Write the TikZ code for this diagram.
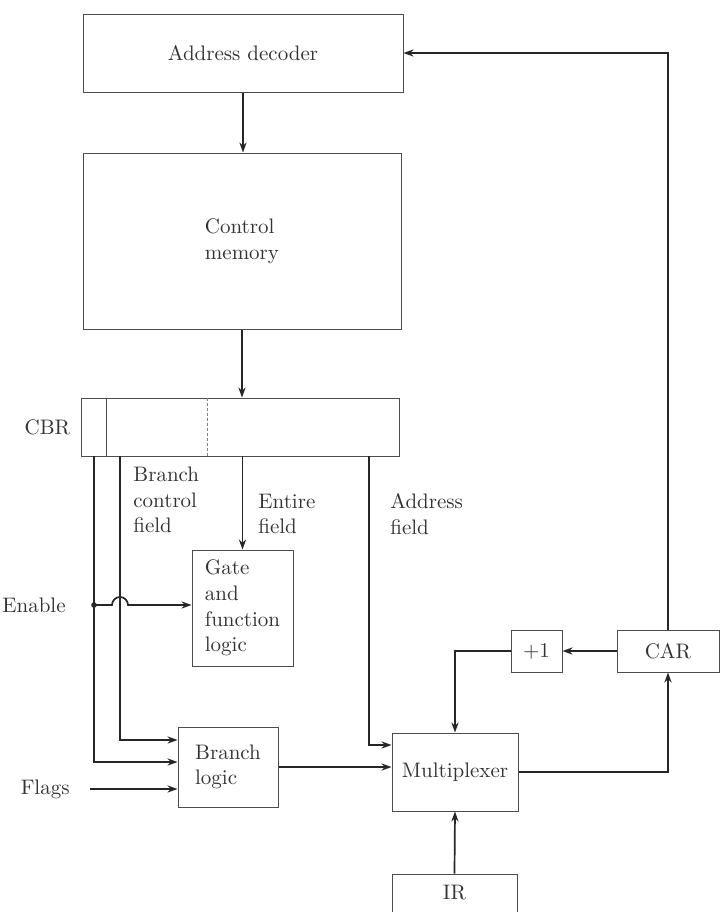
\documentclass[tikz,border=0pt]{standalone}
\usepackage{tikz}
\usetikzlibrary{arrows.meta,positioning}

\begin{document}
\begin{tikzpicture}[x=0.5pt,y=-0.5pt,>={Stealth[length=5pt,width=3.6pt]},
 font=\fontsize{10.5}{12.8}\selectfont,
 blk/.style={draw=black!70,line width=0.5pt,text=black!80,align=center,inner sep=2pt},
 wire/.style={line width=0.85pt,draw=black!85},
 lab/.style={text=black!80,align=left,inner sep=1pt}]
\clip (0,0) rectangle (722,912);
% blocks
\node[blk,minimum width=160pt,minimum height=39pt] (dec) at (243,53) {Address decoder};
\node[blk,align=left,minimum width=159pt,minimum height=88pt] (mem) at (242,241) {Control\\memory};
\node[blk,minimum width=159pt,minimum height=29pt] (cbr) at (240,427) {};
\node[blk,align=left,minimum width=50.5pt,minimum height=58pt] (gate) at (242.5,608)
 {Gate\\and\\function\\logic};
\node[blk,align=left,minimum width=50pt,minimum height=40pt] (bl) at (228,767) {Branch\\logic};
\node[blk,minimum width=63pt,minimum height=39pt] (mux) at (455,772) {Multiplexer};
\node[blk,minimum width=25.5pt,minimum height=21pt] (inc) at (536.5,651) {+1};
\node[blk,minimum width=51pt,minimum height=21pt] (car) at (668,651) {CAR};
\node[blk,minimum width=62.5pt,minimum height=40pt] (ir) at (454.5,914) {};
\node[blk,draw=none] at (454.5,893) {IR};
% fields of the CBR
\draw[draw=black!70,line width=0.5pt] ([xshift=13pt]cbr.north west) -- ([xshift=13pt]cbr.south west);
\draw[draw=black!50,line width=0.4pt,dashed,dash pattern=on 1.5pt off 1pt]
 ([xshift=63.5pt]cbr.north west) -- ([xshift=63.5pt]cbr.south west);
\node[lab,left=4pt of cbr.west] {CBR};
\coordinate (f1) at (94,456);
\coordinate (f2) at (120,456);
\coordinate (f3) at (242.5,456);
\coordinate (f4) at (369,456);
\node[lab,anchor=west] at (131,500) {Branch\\control\\field};
\node[lab,anchor=west] at (256,514) {Entire\\field};
\node[lab,anchor=west] at (388,514) {Address\\field};
% connectors
\draw[wire,->] (dec.south) -- (dec.south |- mem.north);
\draw[wire,->] (mem.south) -- (mem.south |- cbr.north);
\draw[wire,->] (f1) |- ([yshift=2.5pt]bl.west);
\draw[wire,->] (f2) |- ([yshift=13.5pt]bl.west);
\draw[wire,->] (f3) -- (gate.north);
\draw[wire,->] (f4) |- ([yshift=13.5pt]mux.west);
\coordinate (en) at (94,605);
\fill[black!85] (en) circle (1.4pt);
\node[lab,left=13pt of en] {Enable};
\draw[wire,->] (en) -- (112,605) arc[start angle=180,end angle=360,radius=8]
 -- (gate.west |- en);
\coordinate (fl) at (90,789);
\node[lab,left=9pt of fl] {Flags};
\draw[wire,->] (fl) -- (bl.west |- fl);
\draw[wire,->] (bl.east) -- (mux.west |- bl.east);
\draw[wire,->] (ir.north) -- (mux.south);
\draw[wire,->] (mux.east) -| (car.south);
\draw[wire,->] (car.west) -- (inc.east);
\draw[wire,->] (inc.west) -| (mux.north);
\draw[wire,->] (car.north) |- (dec.east);
\end{tikzpicture}
\end{document}
